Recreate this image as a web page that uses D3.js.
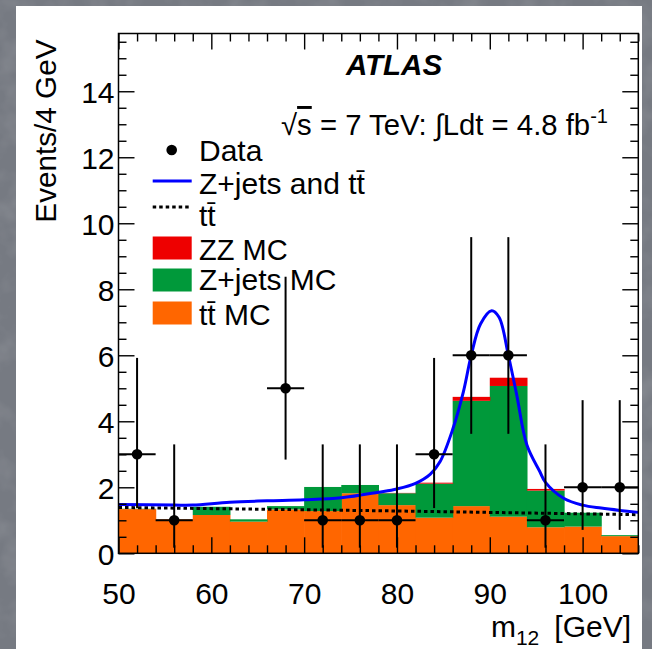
<!DOCTYPE html>
<html>
<head>
<meta charset="utf-8">
<script src="https://cdn.jsdelivr.net/npm/d3@7"></script>
<style>
  html, body { margin: 0; padding: 0; background: #7a7e86; }
  svg { display: block; }
  text { font-family: "Liberation Sans", Arial, Helvetica, sans-serif; fill: #000; }
</style>
</head>
<body>
<svg id="chart" width="652" height="649"></svg>
<script>
// ---------------- data ----------------
const binEdges = [50, 54, 58, 62, 66, 70, 74, 78, 82, 86, 90, 94, 98, 102, 106];
const ttbarMC  = [1.34, 1.03, 1.16, 0.96, 1.33, 1.28, 1.82, 1.46, 1.08, 1.43, 1.11, 0.79, 0.81, 0.52];
const zjetsMC  = [0.01, 0.00, 0.25, 0.07, 0.10, 0.73, 0.25, 0.36, 1.03, 3.19, 3.96, 1.11, 0.42, 0.03];
const zzMC     = [0.00, 0.00, 0.00, 0.00, 0.00, 0.00, 0.00, 0.01, 0.03, 0.12, 0.25, 0.05, 0.00, 0.00];

const dataX    = [52, 56, 68, 72, 76, 80, 84, 88, 92, 96, 100, 104];
const dataY    = [3, 1, 5, 1, 1, 1, 3, 6, 6, 1, 2, 2];
const dataLow  = [1.37, 0.17, 2.84, 0.17, 0.17, 0.17, 1.37, 3.62, 3.62, 0.17, 0.71, 0.71];
const dataHigh = [5.92, 3.30, 8.38, 3.30, 3.30, 3.30, 5.92, 9.58, 9.58, 3.30, 4.64, 4.64];

const fitX = [50, 56, 58, 62, 66, 70, 74, 78, 80, 82, 83.6, 84.65, 86, 87.16, 88, 89, 90.2, 91, 92, 92.9, 94, 95.4, 96, 98, 100, 102, 104, 106];
const fitY = [1.48, 1.46, 1.46, 1.55, 1.59, 1.62, 1.68, 1.85, 1.95, 2.12, 2.4, 2.78, 3.75, 4.9, 6.0, 6.95, 7.35, 7.15, 6.0, 4.8, 3.28, 2.47, 2.15, 1.66, 1.46, 1.37, 1.30, 1.24];

const ttFitX = [50, 64, 78, 92, 106];
const ttFitY = [1.39, 1.34, 1.29, 1.23, 1.17];

const yMajorTicks = [0, 2, 4, 6, 8, 10, 12, 14];
const xMajorTicks = [50, 60, 70, 80, 90, 100];

const legendLabels = ["Data", "Z+jets and tt\u0304", "tt\u0304", "ZZ MC", "Z+jets MC", "tt\u0304 MC"];
const colors = { tt: "#ff6600", zjets: "#00993a", zz: "#ee0000", fit: "#0000ff" };

// ---------------- layout ----------------
const svg = d3.select("#chart");
const L = 118.5, R = 638.3, T = 33.5, B = 553.3;
const x = d3.scaleLinear().domain([50, 106]).range([L, R]);
const y = d3.scaleLinear().domain([0, 15.75]).range([B, T]);

// mottled grey backdrop
const defs = svg.append("defs");
const f = defs.append("filter").attr("id", "mottle").attr("x", 0).attr("y", 0).attr("width", "100%").attr("height", "100%");
f.append("feTurbulence").attr("type", "fractalNoise").attr("baseFrequency", "0.035").attr("numOctaves", 3).attr("seed", 7).attr("result", "n");
f.append("feColorMatrix").attr("in", "n").attr("type", "matrix")
  .attr("values", "0 0 0 0 1  0 0 0 0 1  0 0 0 0 1  0.5 0 0 0 -0.22");
svg.append("rect").attr("width", 652).attr("height", 649).attr("fill", "#767a82");
svg.append("rect").attr("width", 652).attr("height", 649).attr("filter", "url(#mottle)").attr("opacity", 0.45);

// white panel
svg.append("rect").attr("x", 16).attr("y", 6).attr("width", 626).attr("height", 643).attr("fill", "#fff");

// clip
defs.append("clipPath").attr("id", "plotclip").append("rect")
  .attr("x", L).attr("y", T).attr("width", R - L).attr("height", B - T);
const plot = svg.append("g").attr("clip-path", "url(#plotclip)");

// stacked histograms
const bins = d3.range(ttbarMC.length).map(i => {
  const a = ttbarMC[i], b = a + zjetsMC[i], c = b + zzMC[i];
  return { x0: binEdges[i], x1: binEdges[i + 1], layers: [[0, a], [a, b], [b, c]] };
});
const layerColors = [colors.tt, colors.zjets, colors.zz];
[0, 1, 2].forEach(k => {
  plot.append("g").selectAll("rect").data(bins).join("rect")
    .attr("x", d => x(d.x0))
    .attr("width", d => x(d.x1) - x(d.x0) + 0.6)
    .attr("y", d => y(d.layers[k][1]))
    .attr("height", d => Math.max(0, y(d.layers[k][0]) - y(d.layers[k][1])))
    .attr("fill", layerColors[k]);
});

// ttbar fit (dotted)
plot.append("path")
  .datum(ttFitX.map((v, i) => [v, ttFitY[i]]))
  .attr("d", d3.line().x(d => x(d[0])).y(d => y(d[1])).curve(d3.curveMonotoneX))
  .attr("fill", "none").attr("stroke", "#000").attr("stroke-width", 3)
  .attr("stroke-dasharray", "3.5,3");

// Z+jets and ttbar fit (blue)
plot.append("path")
  .datum(fitX.map((v, i) => [v, fitY[i]]))
  .attr("d", d3.line().x(d => x(d[0])).y(d => y(d[1])).curve(d3.curveCatmullRom.alpha(0.5)))
  .attr("fill", "none").attr("stroke", colors.fit).attr("stroke-width", 3);

// data points
const dg = svg.append("g");
dataX.forEach((v, i) => {
  dg.append("line").attr("x1", x(v)).attr("x2", x(v))
    .attr("y1", y(dataLow[i])).attr("y2", y(dataHigh[i]))
    .attr("stroke", "#000").attr("stroke-width", 2);
  dg.append("line").attr("x1", x(v - 2)).attr("x2", x(v + 2))
    .attr("y1", y(dataY[i])).attr("y2", y(dataY[i]))
    .attr("stroke", "#000").attr("stroke-width", 2);
  dg.append("circle").attr("cx", x(v)).attr("cy", y(dataY[i])).attr("r", 5.3).attr("fill", "#000");
});

// ---------------- axes / ticks ----------------
const yMinor = d3.range(0, 15.75, 0.5).filter(v => !yMajorTicks.includes(v));
const xMinor = d3.range(50, 106.01, 2).filter(v => !xMajorTicks.includes(v));

function styleAxis(g) {
  g.select(".domain").remove();
  g.selectAll(".tick line").attr("stroke", "#000").attr("stroke-width", 1.4);
  g.selectAll(".tick text").style("font-size", "30px").style("font-family", "'Liberation Sans', Arial, sans-serif").attr("fill", "#000");
}

svg.append("g").attr("transform", `translate(${L},0)`)
  .call(d3.axisLeft(y).tickValues(yMajorTicks).tickSize(-16).tickPadding(4).tickFormat(d3.format("d")))
  .call(styleAxis)
  .call(g => g.selectAll(".tick text").attr("dy", "0.36em"));
svg.append("g").attr("transform", `translate(${L},0)`)
  .call(d3.axisLeft(y).tickValues(yMinor).tickSize(-8).tickFormat(""))
  .call(styleAxis);
svg.append("g").attr("transform", `translate(${R},0)`)
  .call(d3.axisRight(y).tickValues(yMajorTicks).tickSize(-16).tickFormat(""))
  .call(styleAxis);
svg.append("g").attr("transform", `translate(${R},0)`)
  .call(d3.axisRight(y).tickValues(yMinor).tickSize(-8).tickFormat(""))
  .call(styleAxis);

svg.append("g").attr("transform", `translate(0,${B})`)
  .call(d3.axisBottom(x).tickValues(xMajorTicks).tickSize(-16).tickPadding(29).tickFormat(d3.format("d")))
  .call(styleAxis);
svg.append("g").attr("transform", `translate(0,${B})`)
  .call(d3.axisBottom(x).tickValues(xMinor).tickSize(-8).tickFormat(""))
  .call(styleAxis);
svg.append("g").attr("transform", `translate(0,${T})`)
  .call(d3.axisTop(x).tickValues(xMajorTicks).tickSize(-16).tickFormat(""))
  .call(styleAxis);
svg.append("g").attr("transform", `translate(0,${T})`)
  .call(d3.axisTop(x).tickValues(xMinor).tickSize(-8).tickFormat(""))
  .call(styleAxis);

// frame
svg.append("rect").attr("x", L).attr("y", T).attr("width", R - L).attr("height", B - T)
  .attr("fill", "none").attr("stroke", "#000").attr("stroke-width", 1.5);

// axis titles
svg.append("text").attr("transform", `translate(56,${T + 6}) rotate(-90)`)
  .attr("text-anchor", "end").style("font-size", "29.7px").text("Events/4 GeV");

const xt = svg.append("text").attr("x", 631).attr("y", 637).attr("text-anchor", "end").style("font-size", "30px");
xt.append("tspan").text("m");
xt.append("tspan").attr("dy", 8).style("font-size", "21px").text("12");
xt.append("tspan").attr("dy", -8).text("\u2002[GeV]");

// ATLAS label
svg.append("text").attr("x", 394).attr("y", 75).attr("text-anchor", "middle")
  .style("font-size", "29.5px").style("font-weight", "bold").style("font-style", "italic").text("ATLAS");

// energy / luminosity
const lum = svg.append("text").attr("x", 281).attr("y", 135).style("font-size", "29.3px");
lum.append("tspan").text("\u221A");
lum.append("tspan").style("text-decoration", "overline").text("s");
lum.append("tspan").text(" = 7 TeV: \u222BLdt = 4.8 fb");
lum.append("tspan").attr("dy", -12).style("font-size", "20px").text("-1");

// ---------------- legend ----------------
const legX0 = 152.7, legX1 = 191.7, textX = 199;
const rowsY = [150, 181, 207, 248, 280, 313];
const baseY = [161, 194, 226, 260, 290, 325];
const legendFont = [30, 30, 30, 29, 30, 30];
const lg = svg.append("g");
lg.append("circle").attr("cx", (legX0 + legX1) / 2 - 0.5).attr("cy", rowsY[0]).attr("r", 5.3).attr("fill", "#000");
lg.append("line").attr("x1", legX0).attr("x2", legX1).attr("y1", rowsY[1]).attr("y2", rowsY[1])
  .attr("stroke", colors.fit).attr("stroke-width", 3);
lg.append("line").attr("x1", legX0).attr("x2", legX1).attr("y1", rowsY[2]).attr("y2", rowsY[2])
  .attr("stroke", "#000").attr("stroke-width", 3).attr("stroke-dasharray", "3.5,3");
[[3, colors.zz], [4, colors.zjets], [5, colors.tt]].forEach(([i, c]) => {
  lg.append("rect").attr("x", legX0).attr("y", rowsY[i] - 11.5).attr("width", legX1 - legX0).attr("height", 23)
    .attr("fill", c);
});
legendLabels.forEach((t, i) => {
  lg.append("text").attr("x", textX).attr("y", baseY[i]).style("font-size", legendFont[i] + "px").text(t);
});
</script>
</body>
</html>
